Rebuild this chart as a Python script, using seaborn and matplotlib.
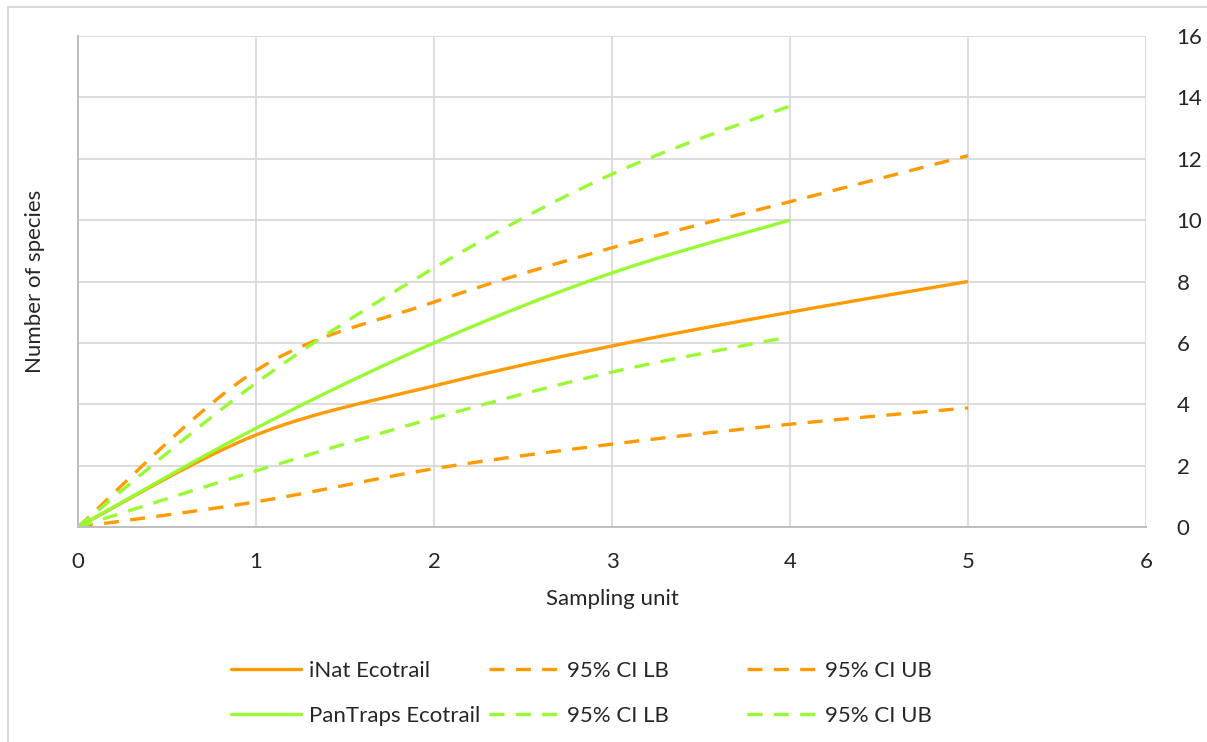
import numpy as np
import pandas as pd
import matplotlib
matplotlib.use("Agg")
import matplotlib.pyplot as plt
from matplotlib.lines import Line2D
from matplotlib.patches import Rectangle
import seaborn as sns

# ---- data ----
x_inat = [0, 1, 2, 3, 4, 5]
inat = [0, 3.0, 4.6, 5.9, 7.0, 8.0]
inat_lb = [0, 0.82, 1.9, 2.7, 3.35, 3.88]
inat_ub = [0, 5.1, 7.33, 9.1, 10.6, 12.1]

x_pan = [0, 1, 2, 3, 4]
pan = [0, 3.22, 6.0, 8.28, 10.0]
pan_lb = [0, 1.83, 3.55, 5.05, 6.2]
pan_ub = [0, 4.69, 8.44, 11.5, 13.72]

x_ticks = [0, 1, 2, 3, 4, 5, 6]
y_ticks = [0, 2, 4, 6, 8, 10, 12, 14, 16]

ORANGE = "#FF9A00"
GREEN = "#99FA33"
FS = 16


def smooth(xs, ys, n=40):
    """Excel-like smoothed line (Catmull-Rom Bezier) through the given points."""
    P = np.column_stack([xs, ys]).astype(float)
    out = []
    m = len(P)
    for i in range(m - 1):
        p0 = P[i - 1] if i > 0 else P[i]
        p1 = P[i]
        p2 = P[i + 1]
        p3 = P[i + 2] if i + 2 < m else P[i + 1]
        c1 = p1 + (p2 - p0) / 6.0
        c2 = p2 - (p3 - p1) / 6.0
        t = np.linspace(0, 1, n)[:, None]
        seg = ((1 - t) ** 3) * p1 + 3 * ((1 - t) ** 2) * t * c1 + 3 * (1 - t) * t ** 2 * c2 + t ** 3 * p2
        out.append(seg if i == 0 else seg[1:])
    arr = np.vstack(out)
    return arr[:, 0], arr[:, 1]


sns.set_theme(style="white")
plt.rcParams["font.family"] = ["Lato", "DejaVu Sans"]

fig = plt.figure(figsize=(12.07, 7.42), dpi=100)
ax = fig.add_axes([78 / 1207, 1 - 527 / 742, (1146 - 78) / 1207, (527 - 36) / 742])

series = [
    ("iNat Ecotrail", x_inat, inat, ORANGE, "-"),
    ("iNat 95% CI LB", x_inat, inat_lb, ORANGE, "--"),
    ("iNat 95% CI UB", x_inat, inat_ub, ORANGE, "--"),
    ("PanTraps Ecotrail", x_pan, pan, GREEN, "-"),
    ("PanTraps 95% CI LB", x_pan, pan_lb, GREEN, "--"),
    ("PanTraps 95% CI UB", x_pan, pan_ub, GREEN, "--"),
]
lw = 2.4
dash = (4.5, 3.4)
for name, xs, ys, col, ls in series:
    sx, sy = smooth(xs, ys)
    df = pd.DataFrame({"x": sx, "y": sy})
    sns.lineplot(data=df, x="x", y="y", ax=ax, color=col, linewidth=lw,
                 sort=False, estimator=None, legend=False)
    line = ax.lines[-1]
    if ls == "--":
        line.set_dashes(dash)
    line.set_solid_capstyle("butt")
    line.set_dash_capstyle("butt")

ax.set_xlim(0, 6)
ax.set_ylim(0, 16)
ax.set_xticks(x_ticks)
ax.set_yticks(y_ticks)
ax.set_xticklabels([str(v) for v in x_ticks], fontsize=FS)
ax.set_yticklabels([str(v) for v in y_ticks], fontsize=FS)
ax.yaxis.tick_right()
ax.yaxis.set_label_position("left")
ax.tick_params(axis="both", length=0)
ax.tick_params(axis="x", pad=18)
ax.tick_params(axis="y", pad=22)
ax.grid(True, color="#D9D9D9", linewidth=1.3)
ax.set_axisbelow(True)
for s in ["top", "right"]:
    ax.spines[s].set_visible(False)
for s in ["left", "bottom"]:
    ax.spines[s].set_color("#BFBFBF")
    ax.spines[s].set_linewidth(1.4)
ax.set_xlabel("Sampling unit", fontsize=FS, labelpad=12)
ax.set_ylabel("Number of species", fontsize=FS, labelpad=24)

# legend: three columns, placed like the reference
def h(col, ls):
    ln = Line2D([], [], color=col, linewidth=lw, linestyle=ls)
    if ls == "--":
        ln.set_dashes(dash)
    ln.set_dash_capstyle("butt")
    return ln

cols = [
    ([h(ORANGE, "-"), h(GREEN, "-")], ["iNat Ecotrail", "PanTraps Ecotrail"], 231),
    ([h(ORANGE, "--"), h(GREEN, "--")], ["95% CI LB", "95% CI LB"], 489),
    ([h(ORANGE, "--"), h(GREEN, "--")], ["95% CI UB", "95% CI UB"], 747),
]
for hs, labs, xp in cols:
    fig.legend(hs, labs, loc="upper left", bbox_to_anchor=(xp / 1207, 1 - 661 / 742),
               frameon=False, fontsize=FS, handlelength=3.15, handletextpad=0.36,
               labelspacing=1.12, borderpad=0, borderaxespad=0)

fig.add_artist(Rectangle((8 / 1207, -0.05), 1.2, (1 - 7 / 742) + 0.05,
                         transform=fig.transFigure, fill=False,
                         edgecolor="#D9D9D9", linewidth=1.5))

fig.savefig("out.png", dpi=100, facecolor="white")
